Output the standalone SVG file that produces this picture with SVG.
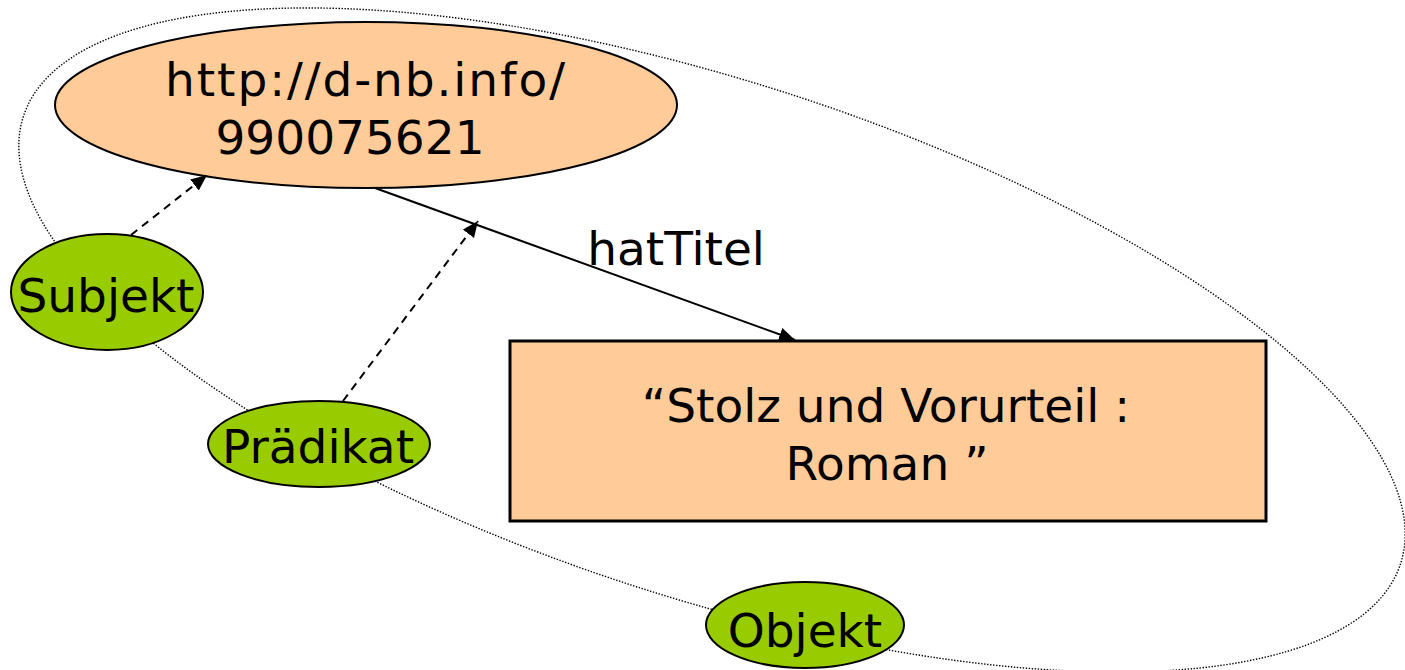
<svg xmlns="http://www.w3.org/2000/svg" width="1405" height="670" viewBox="0 0 1405 670">
<style>
.lbl{font-family:"DejaVu Sans","Verdana",sans-serif;font-size:47px;fill:#000}
.res{fill:#FFCC99;stroke:#000;stroke-width:2}
.box{fill:#FFCC99;stroke:#000;stroke-width:3}
.role{fill:#99CC00;stroke:#000;stroke-width:2}
.dash{stroke:#000;stroke-width:2;fill:none;stroke-dasharray:8 6}
.solid{stroke:#000;stroke-width:2;fill:none}
.dotted{fill:none;stroke:#000;stroke-width:1.4;stroke-dasharray:1.4 1.6}
</style>
<defs>
<marker id="arr" markerUnits="userSpaceOnUse" markerWidth="18" markerHeight="16" refX="16" refY="7" orient="auto">
<path d="M0,0 L16,7 L0,14 Z" fill="#000"/>
</marker>
</defs>
<rect width="1405" height="670" fill="#fff"/>
<g id="triple-boundary">
<ellipse class="dotted" cx="712" cy="340" rx="724" ry="258" transform="rotate(18 712 340)"/>
</g>
<g id="node-uri">
<ellipse class="res" cx="366" cy="105" rx="311" ry="83"/>
<text class="lbl" x="365" y="96" text-anchor="middle" textLength="400" lengthAdjust="spacing">http://d-nb.info/</text>
<text class="lbl" x="350" y="154" text-anchor="middle">990075621</text>
</g>
<g id="node-title">
<rect class="box" x="510" y="341" width="756" height="180"/>
<text class="lbl" x="886" y="422" text-anchor="middle">“Stolz und Vorurteil :</text>
<text class="lbl" x="887" y="480" text-anchor="middle">Roman ”</text>
</g>
<g id="node-subjekt">
<ellipse class="role" cx="107" cy="292" rx="96" ry="58"/>
<text class="lbl" x="106" y="312" text-anchor="middle">Subjekt</text>
</g>
<g id="node-praedikat">
<ellipse class="role" cx="319" cy="444" rx="111" ry="43"/>
<text class="lbl" x="318" y="463" text-anchor="middle">Prädikat</text>
</g>
<g id="node-objekt">
<ellipse class="role" cx="805" cy="625" rx="99" ry="43"/>
<text class="lbl" x="805" y="647" text-anchor="middle">Objekt</text>
</g>
<g id="connectors">
<line class="solid" x1="375" y1="188" x2="795" y2="340" marker-end="url(#arr)"/>
<line class="dash" x1="131" y1="235" x2="207" y2="175" marker-end="url(#arr)"/>
<line class="dash" x1="343" y1="401" x2="478" y2="221" marker-end="url(#arr)"/>
<text class="lbl" x="676" y="265" text-anchor="middle">hatTitel</text>
</g>
</svg>
